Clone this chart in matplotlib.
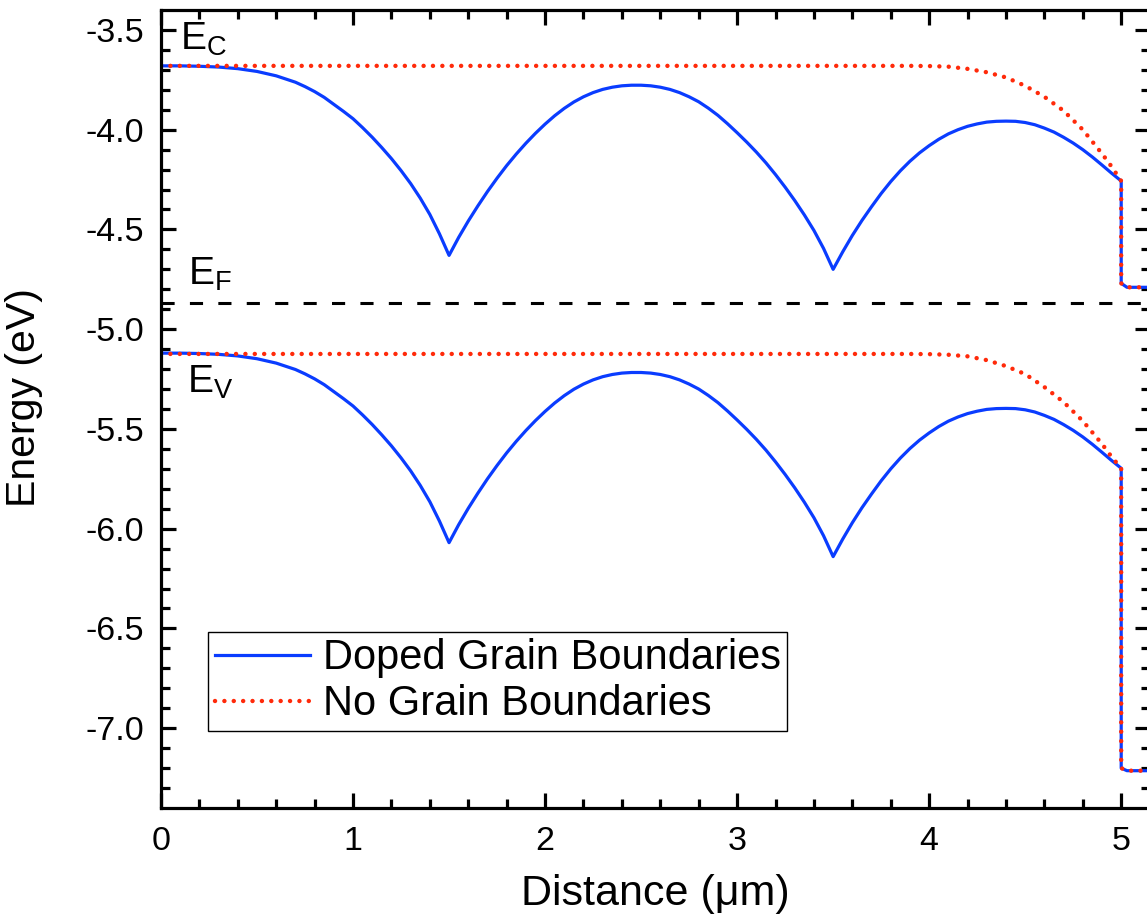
import matplotlib
matplotlib.use("Agg")
import matplotlib.pyplot as plt

plt.rcParams['font.family'] = ['Liberation Sans', 'DejaVu Sans']
plt.rcParams['mathtext.default'] = 'regular'
plt.rcParams['axes.unicode_minus'] = False

# Doped grain boundaries (blue, solid)
x_doped = [0.0, 0.1, 0.2, 0.3, 0.4, 0.5, 0.6, 0.7,
           0.75, 0.8, 0.85, 0.9, 0.95, 1.0, 1.05, 1.1, 1.15, 1.2, 1.25, 1.3, 1.35, 1.4, 1.45,
           1.5, 1.55, 1.6, 1.65, 1.7, 1.75, 1.8, 1.85, 1.9, 1.95, 2.0, 2.05, 2.1, 2.15, 2.2,
           2.25, 2.3, 2.35, 2.4, 2.45, 2.5, 2.55, 2.6, 2.65, 2.7, 2.75, 2.8, 2.85, 2.9, 2.95,
           3.0, 3.05, 3.1, 3.15, 3.2, 3.25, 3.3, 3.35, 3.4, 3.45, 3.5, 3.55, 3.6, 3.65, 3.7,
           3.75, 3.8, 3.85, 3.9, 3.95, 4.0, 4.05, 4.1, 4.15, 4.2, 4.25, 4.3, 4.35, 4.4, 4.45,
           4.5, 4.55, 4.6, 4.65, 4.7, 4.75, 4.8, 4.85, 4.9, 4.95, 5.0,
           5.0, 5.03, 5.15]
ec_doped = [-3.680, -3.680, -3.682, -3.686, -3.694, -3.708, -3.730, -3.762,
            -3.784, -3.809, -3.838, -3.873, -3.908, -3.945, -3.990, -4.038, -4.090, -4.145,
            -4.205, -4.270, -4.343, -4.425, -4.522,
            -4.630, -4.540, -4.458, -4.382, -4.310, -4.243, -4.180, -4.122, -4.068, -4.018,
            -3.972, -3.930, -3.893, -3.861, -3.835, -3.814, -3.798, -3.787, -3.780, -3.777,
            -3.777, -3.780, -3.787, -3.798, -3.814, -3.835, -3.860, -3.892, -3.928, -3.970,
            -4.015, -4.062, -4.112, -4.166, -4.225, -4.288, -4.355, -4.427, -4.505, -4.595,
            -4.700, -4.612, -4.530, -4.455, -4.386, -4.320, -4.260, -4.206, -4.158, -4.116,
            -4.080, -4.048, -4.021, -4.000, -3.983, -3.971, -3.962, -3.958, -3.957, -3.958,
            -3.964, -3.975, -3.992, -4.012, -4.038, -4.067, -4.100, -4.137, -4.177, -4.218,
            -4.257,
            -4.770, -4.790, -4.790]
ev_doped = [-5.120, -5.120, -5.122, -5.126, -5.134, -5.148, -5.170, -5.202,
            -5.224, -5.249, -5.278, -5.313, -5.348, -5.385, -5.430, -5.478, -5.530, -5.585,
            -5.645, -5.710, -5.783, -5.865, -5.962,
            -6.070, -5.980, -5.898, -5.822, -5.750, -5.683, -5.620, -5.562, -5.508, -5.458,
            -5.412, -5.370, -5.333, -5.301, -5.275, -5.254, -5.238, -5.227, -5.220, -5.217,
            -5.217, -5.220, -5.227, -5.238, -5.254, -5.275, -5.300, -5.332, -5.368, -5.410,
            -5.455, -5.502, -5.552, -5.606, -5.665, -5.728, -5.795, -5.867, -5.945, -6.035,
            -6.140, -6.052, -5.970, -5.895, -5.826, -5.760, -5.700, -5.646, -5.598, -5.556,
            -5.520, -5.488, -5.461, -5.440, -5.423, -5.411, -5.402, -5.398, -5.397, -5.398,
            -5.404, -5.415, -5.432, -5.452, -5.478, -5.507, -5.540, -5.577, -5.617, -5.658,
            -5.697,
            -7.200, -7.213, -7.213]

# No grain boundaries (red, dotted)
x_nogb = [0.0, 3.9, 4.0, 4.1, 4.2, 4.3, 4.4, 4.5, 4.6, 4.7, 4.8, 4.9, 4.95, 5.0, 5.0, 5.03, 5.15]
ec_nogb = [-3.680, -3.680, -3.681, -3.684, -3.695, -3.712, -3.738, -3.780, -3.835, -3.905,
           -4.000, -4.120, -4.185, -4.257, -4.770, -4.790, -4.790]
ev_nogb = [-5.124, -5.124, -5.125, -5.128, -5.136, -5.155, -5.185, -5.225, -5.290, -5.365,
           -5.460, -5.575, -5.640, -5.697, -7.200, -7.213, -7.213]

e_fermi = -4.867

blue = '#0a3cff'
red = '#ff2a0a'
dots = (0, (0.01, 2.1))

fig = plt.figure(figsize=(11.47, 9.24), dpi=100)
ax = fig.add_axes([161 / 1147, 116 / 924, 989 / 1147, 798 / 924])

ax.plot(x_doped, ec_doped, color=blue, lw=2.3, label='Doped Grain Boundaries')
ax.plot(x_doped, ev_doped, color=blue, lw=2.3)
ax.plot(x_nogb, ec_nogb, color=red, lw=3.2, ls=dots, dash_capstyle='round',
        label='No Grain Boundaries')
ax.plot(x_nogb, ev_nogb, color=red, lw=3.2, ls=dots, dash_capstyle='round')
ax.plot([0, 5.15], [e_fermi, e_fermi], color='k', lw=2.2, ls=(0, (4.3, 5.0)))

ax.set_xlim(0, 5.15)
ax.set_ylim(-7.4, -3.4)
ax.set_xticks([0, 1, 2, 3, 4, 5])
ax.set_xticks([i * 0.2 for i in range(26)], minor=True)
ax.set_yticks([-7.0, -6.5, -6.0, -5.5, -5.0, -4.5, -4.0, -3.5])
ax.set_yticks([-7.3 + i * 0.1 for i in range(39)], minor=True)
ax.set_yticklabels(['-7.0', '-6.5', '-6.0', '-5.5', '-5.0', '-4.5', '-4.0', '-3.5'])

ax.tick_params(which='both', direction='in', top=True, right=True, width=2.3,
               labelsize=24.5, colors='k')
ax.tick_params(which='major', length=11)
ax.tick_params(which='minor', length=6.5)
ax.tick_params(axis='y', pad=12)
ax.tick_params(axis='x', pad=13)
for s in ax.spines.values():
    s.set_linewidth(2.3)

ax.set_xlabel('Distance (μm)', fontsize=31)
ax.set_ylabel('Energy (eV)', fontsize=29.5)
ax.xaxis.set_label_coords(0.5, -0.083)
ax.yaxis.set_label_coords(-0.119, 0.514)

ax.text(0.099, -3.60, r'$E_C$', fontsize=28, va='baseline')
ax.text(0.139, -4.778, r'$E_F$', fontsize=28, va='baseline')
ax.text(0.135, -5.32, r'$E_V$', fontsize=28, va='baseline')

leg = ax.legend(loc='upper left', bbox_to_anchor=(0.048, 0.2206), borderaxespad=0,
                fontsize=30, fancybox=False, edgecolor='k', framealpha=1,
                handlelength=2.28, handletextpad=0.31, borderpad=0.15, labelspacing=0.15)
leg.get_frame().set_linewidth(1.0)

fig.savefig('out.png', dpi=100)
